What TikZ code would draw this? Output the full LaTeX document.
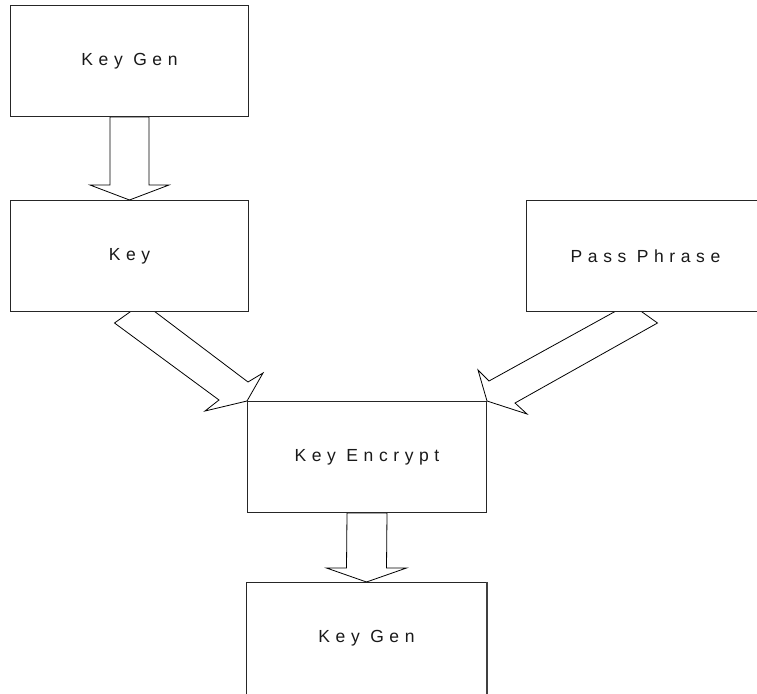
\documentclass[tikz,border=0pt]{standalone}
\usepackage{fontspec}
\setmainfont{Liberation Sans}[LetterSpace=32]
\usetikzlibrary{calc,backgrounds}

\tikzset{
  stage/.style={draw=black!85, line width=1pt, fill=white, rectangle,
    minimum width=238pt, minimum height=111pt, inner sep=0pt,
    font=\fontsize{17.5}{20}\selectfont, text=black!90},
  blockarrow/.style={draw=black, line width=0.8pt, line join=miter}
}

\begin{document}
\begin{tikzpicture}[x=1pt,y=-1pt]
  \useasboundingbox (0,0) rectangle (757,693);
  \clip (0,0) rectangle (757,693);

  % process boxes
  \node[stage, anchor=north west] (gen)  at (10,5)    {Key Gen};
  \node[stage, anchor=north west] (key)  at (10,200)  {Key};
  \node[stage, anchor=north west] (pass) at (526,200) {Pass Phrase};
  \node[stage, anchor=north west, minimum width=239pt] (enc) at (247,401) {Key Encrypt};
  % the last box runs past the lower edge: only its sides and top are drawn
  \node[stage, draw=none, anchor=north west, minimum width=240pt] (out) at (246,582) {Key Gen};
  \draw[black!85, line width=1pt]
    ($(out.south west)+(0,20)$) -- (out.north west) -- (out.north east);
  \draw[black!75, line width=2pt]
    (out.north east) -- ($(out.south east)+(0,20)$);

  % hollow block arrows, tails tucked behind the boxes
  \begin{scope}[on background layer]
    \draw[blockarrow]
      ($(gen.south)+(-19.5,0)$) -- ($(key.north)+(-19.5,-15)$)
      -- ($(key.north)+(-39.5,-15)$) -- (key.north)
      -- ($(key.north)+(39.5,-15)$) -- ($(key.north)+(19.5,-15)$)
      -- ($(gen.south)+(19.5,0)$) -- cycle;

    \draw[blockarrow]
      ($(enc.south)+(-20,0)$) -- ($(out.north)+(-20,-14)$)
      -- ($(out.north)+(-40,-14)$) -- (out.north)
      -- ($(out.north)+(40,-14)$) -- ($(out.north)+(20,-14)$)
      -- ($(enc.south)+(20,0)$) -- cycle;

    \draw[blockarrow]
      ($(key.south)+(-15,11)$) -- ($(enc.north west)+(-28,-1)$)
      -- ($(enc.north west)+(-42,10)$) -- (enc.north west)
      -- ($(enc.north west)+(16,-28)$) -- ($(enc.north west)+(1,-19)$)
      -- ($(key.south)+(13.5,-9.3)$) -- cycle;

    \draw[blockarrow]
      ($(pass.south)+(12,11)$) -- ($(enc.north east)+(28,2)$)
      -- ($(enc.north east)+(40,13)$) -- (enc.north east)
      -- ($(enc.north east)+(-9,-31)$) -- ($(enc.north east)+(2,-20)$)
      -- ($(pass.south)+(-15.6,-8.7)$) -- cycle;
  \end{scope}
\end{tikzpicture}
\end{document}
